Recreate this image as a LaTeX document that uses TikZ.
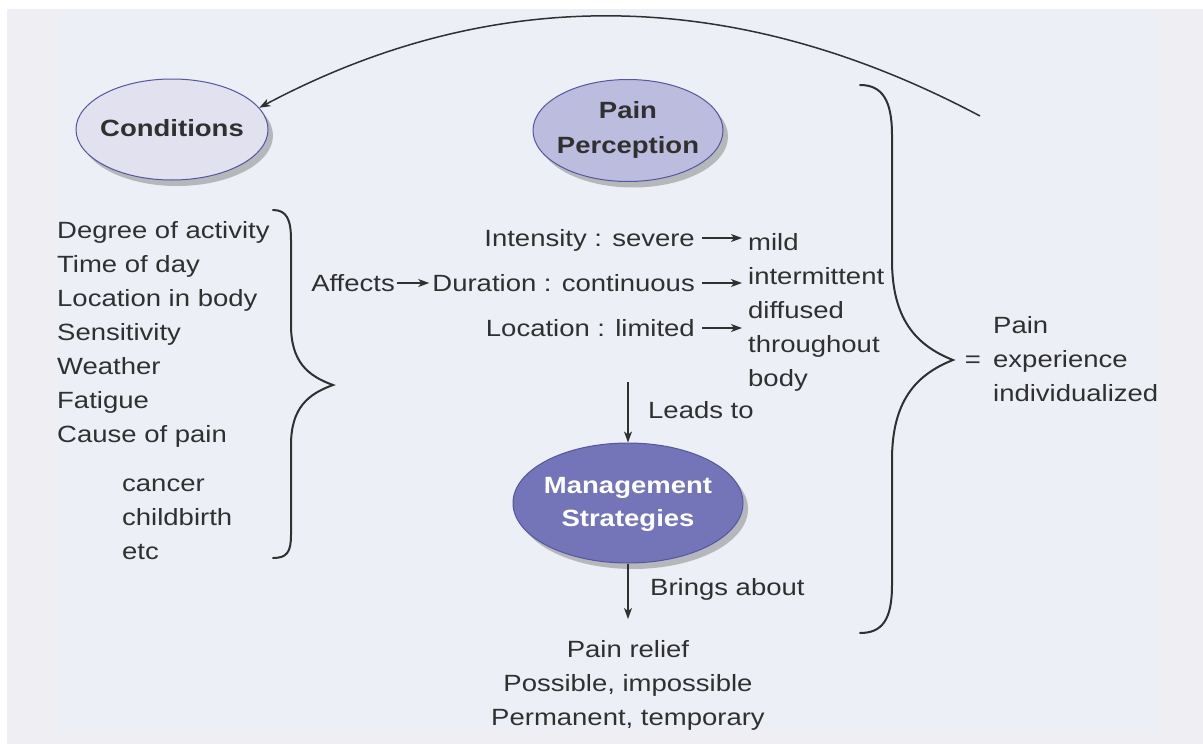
\documentclass[tikz,border=0pt]{standalone}
\usepackage{fontspec}
\setmainfont{Liberation Sans}[FakeStretch=1.17]
\usetikzlibrary{arrows.meta,shapes.geometric,shadows}

\definecolor{ink}{HTML}{303030}
\definecolor{paper}{HTML}{EFEEF3}
\definecolor{panel}{HTML}{ECEFF6}
\definecolor{lightoval}{HTML}{E1E1EF}
\definecolor{midoval}{HTML}{BCBCDF}
\definecolor{darkoval}{HTML}{7475B8}
\definecolor{ovalrim}{HTML}{5555A0}

% centred label that does not widen the surrounding ellipse
\newcommand\ovaltext[1]{\makebox[0pt]{\begin{tabular}{@{}c@{}}#1\end{tabular}}}

\begin{document}
\begin{tikzpicture}[x=1pt,y=-1pt,
  every node/.style={font=\fontsize{23.5}{34}\selectfont, text=ink, inner sep=0pt},
  oval/.style={ellipse, draw=ovalrim, line width=1pt,
    font=\fontsize{23.5}{33}\selectfont\bfseries,
    drop shadow={shadow xshift=5pt, shadow yshift=-6pt, fill=black!50, opacity=0.5}},
  row/.style={text height=17pt, text depth=0pt},
  conn/.style={draw=ink, line width=1.3pt, -{Stealth[length=11pt,width=8pt,inset=3pt]}},
  brace/.style={draw=ink, line width=2pt, line cap=round},
]
\useasboundingbox (0,0) rectangle (1203,744);

% page background
\fill[white] (0,0) rectangle (1203,744);
\fill[paper] (7,9) rectangle (1203,744);
\fill[panel] (57,9) rectangle (1159,731);

% ovals
\node[oval, fill=lightoval, minimum width=192pt, minimum height=101pt] (cond) at (172,129.5) {\ovaltext{Conditions}};
\node[oval, fill=midoval, minimum width=190pt, minimum height=102pt] (perc) at (628,130.5) {\ovaltext{\raisebox{2pt}{Pain}\\Perception}};
\node[oval, fill=darkoval, text=white, minimum width=230pt, minimum height=120pt] (mgmt) at (628,503) {\ovaltext{Management\\Strategies}};

% list of conditions
\node[anchor=north west, align=left] (factors) at (57,221)
  {Degree of activity\\Time of day\\Location in body\\Sensitivity\\Weather\\Fatigue\\Cause of pain};
\node[anchor=north west, align=left] (causes) at (122,479) {cancer\\childbirth\\etc};

% left brace
\draw[brace] (273,210) .. controls (287,210) and (291,220) .. (291,240) -- (291,325)
  .. controls (291,362) and (308,376) .. (333,385)
  .. controls (308,394) and (291,408) .. (291,445) -- (291,535)
  .. controls (291,552) and (287,558) .. (273,558);

% perception dimensions
\node[row, anchor=east] (aff) at (395,283) {Affects};
\node[row, anchor=east] (sev) at (695,238) {Intensity : severe};
\node[row, anchor=east] (dur) at (695,283) {Duration : continuous};
\node[row, anchor=east] (loc) at (695,328) {Location : limited};
\node[anchor=north west, align=left] (rcol) at (748,233)
  {mild\\intermittent\\diffused\\throughout\\body};

\draw[conn, shorten <=2pt, shorten >=3pt] (aff.east) -- (dur.west);
\draw[conn, shorten <=7pt, shorten >=6pt] (sev.east) -- (sev.east -| rcol.west);
\draw[conn, shorten <=7pt, shorten >=6pt] (dur.east) -- (dur.east -| rcol.west);
\draw[conn, shorten <=7pt, shorten >=6pt] (loc.east) -- (loc.east -| rcol.west);

% management chain
\coordinate (ltop) at (628,382);
\node[row, anchor=west] (leads) at (648,410) {Leads to};
\draw[conn] (ltop) -- (mgmt.north);

\node[row, anchor=west] (brings) at (650,587) {Brings about};
\node[anchor=north, align=center] (relief) at (628,640)
  {Pain relief\\Possible, impossible\\Permanent, temporary};
\draw[conn, shorten >=21pt] (mgmt.south) -- (relief.north);

% right brace and result
\draw[brace] (860,85) .. controls (882,85) and (892,100) .. (892,135) -- (892,260)
  .. controls (892,318) and (915,345) .. (953,360)
  .. controls (915,375) and (892,402) .. (892,460) -- (892,585)
  .. controls (892,620) and (882,633) .. (860,633);
\node (eq) at (973,362) {=};
\node[anchor=north west, align=left] (exp) at (993,316) {Pain\\experience\\individualized};

% feedback arc back to the conditions
\coordinate (arcend) at (980,116);
\draw[conn, line width=1.5pt] (arcend) .. controls (735,-14) and (494,-17) .. (cond.14);
\end{tikzpicture}
\end{document}
